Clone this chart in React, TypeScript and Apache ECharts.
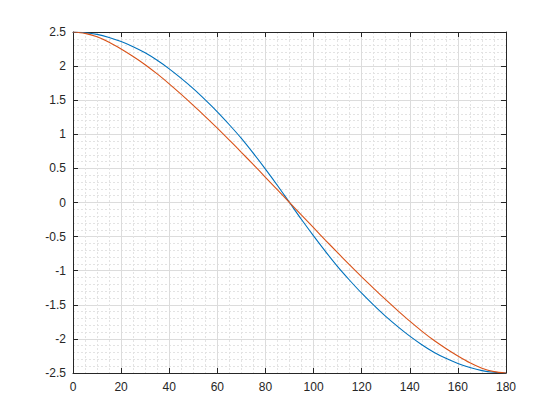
import React, { useEffect, useRef } from "react";
import * as echarts from "echarts";

const angles = [0, 5, 10, 15, 20, 25, 30, 35, 40, 45, 50, 55, 60, 65, 70, 75, 80, 85, 90,
  95, 100, 105, 110, 115, 120, 125, 130, 135, 140, 145, 150, 155, 160, 165, 170, 175, 180];
const blueValues = [2.5, 2.49, 2.465, 2.42, 2.36, 2.285, 2.195, 2.085, 1.96, 1.82, 1.67, 1.505, 1.33, 1.14, 0.94, 0.72, 0.49, 0.25, 0,
  -0.25, -0.49, -0.72, -0.94, -1.14, -1.33, -1.505, -1.67, -1.82, -1.96, -2.085, -2.195, -2.285, -2.36, -2.42, -2.465, -2.49, -2.5];
const orangeValues = [2.5, 2.48, 2.43, 2.35, 2.25, 2.14, 2.02, 1.885, 1.74, 1.585, 1.425, 1.26, 1.09, 0.915, 0.735, 0.555, 0.37, 0.185, 0,
  -0.185, -0.37, -0.555, -0.735, -0.915, -1.09, -1.26, -1.425, -1.585, -1.74, -1.885, -2.02, -2.14, -2.25, -2.35, -2.43, -2.48, -2.5];

const blueColor = "#0072BD";
const orangeColor = "#D95319";
const axisColor = "#262626";

export default function App() {
  const ref = useRef<HTMLDivElement>(null);
  useEffect(() => {
    if (!ref.current) return;
    const chart = echarts.init(ref.current, null, { renderer: "svg" });
    const labelStyle = { color: axisColor, fontFamily: "Liberation Sans, Arial, sans-serif", fontSize: 12 };
    const baseX = {
      type: "value" as const,
      min: 0,
      max: 180,
      interval: 20,
      axisLine: { show: true, onZero: false, lineStyle: { color: axisColor, width: 1 } },
      axisTick: { show: true, inside: true, length: 5, lineStyle: { color: axisColor } },
    };
    const baseY = {
      type: "value" as const,
      min: -2.5,
      max: 2.5,
      interval: 0.5,
      axisLine: { show: true, onZero: false, lineStyle: { color: axisColor, width: 1 } },
      axisTick: { show: true, inside: true, length: 5, lineStyle: { color: axisColor } },
    };
    chart.setOption({
      animation: false,
      backgroundColor: "#ffffff",
      grid: { left: 73, right: 54, top: 32, bottom: 47, containLabel: false },
      xAxis: [
        {
          ...baseX,
          position: "bottom",
          axisLabel: { ...labelStyle, margin: 8 },
          splitLine: { show: true, lineStyle: { color: "#dcdcdc", width: 1, type: "solid" } },
          minorTick: { show: false, splitNumber: 4 },
          minorSplitLine: { show: true, lineStyle: { color: "#e3e3e3", width: 1, type: [2, 2] } },
        },
        {
          ...baseX,
          position: "top",
          axisLabel: { show: false },
          splitLine: { show: false },
        },
      ],
      yAxis: [
        {
          ...baseY,
          position: "left",
          axisLabel: { ...labelStyle, margin: 7 },
          splitLine: { show: true, lineStyle: { color: "#dcdcdc", width: 1, type: "solid" } },
          minorTick: { show: false, splitNumber: 5 },
          minorSplitLine: { show: true, lineStyle: { color: "#e3e3e3", width: 1, type: [2, 2] } },
        },
        {
          ...baseY,
          position: "right",
          axisLabel: { show: false },
          splitLine: { show: false },
        },
      ],
      series: [
        {
          type: "line",
          xAxisIndex: 0,
          yAxisIndex: 0,
          data: angles.map((a, i) => [a, blueValues[i]]),
          showSymbol: false,
          smooth: 0.3,
          lineStyle: { color: blueColor, width: 1.1 },
          itemStyle: { color: blueColor },
          z: 3,
        },
        {
          type: "line",
          xAxisIndex: 0,
          yAxisIndex: 0,
          data: angles.map((a, i) => [a, orangeValues[i]]),
          showSymbol: false,
          smooth: 0.3,
          lineStyle: { color: orangeColor, width: 1.1 },
          itemStyle: { color: orangeColor },
          z: 4,
        },
      ],
    });
    return () => chart.dispose();
  }, []);
  return (
    <div
      ref={ref}
      style={{ position: "fixed", left: 0, top: 0, width: 560, height: 420, background: "#fff" }}
    />
  );
}
